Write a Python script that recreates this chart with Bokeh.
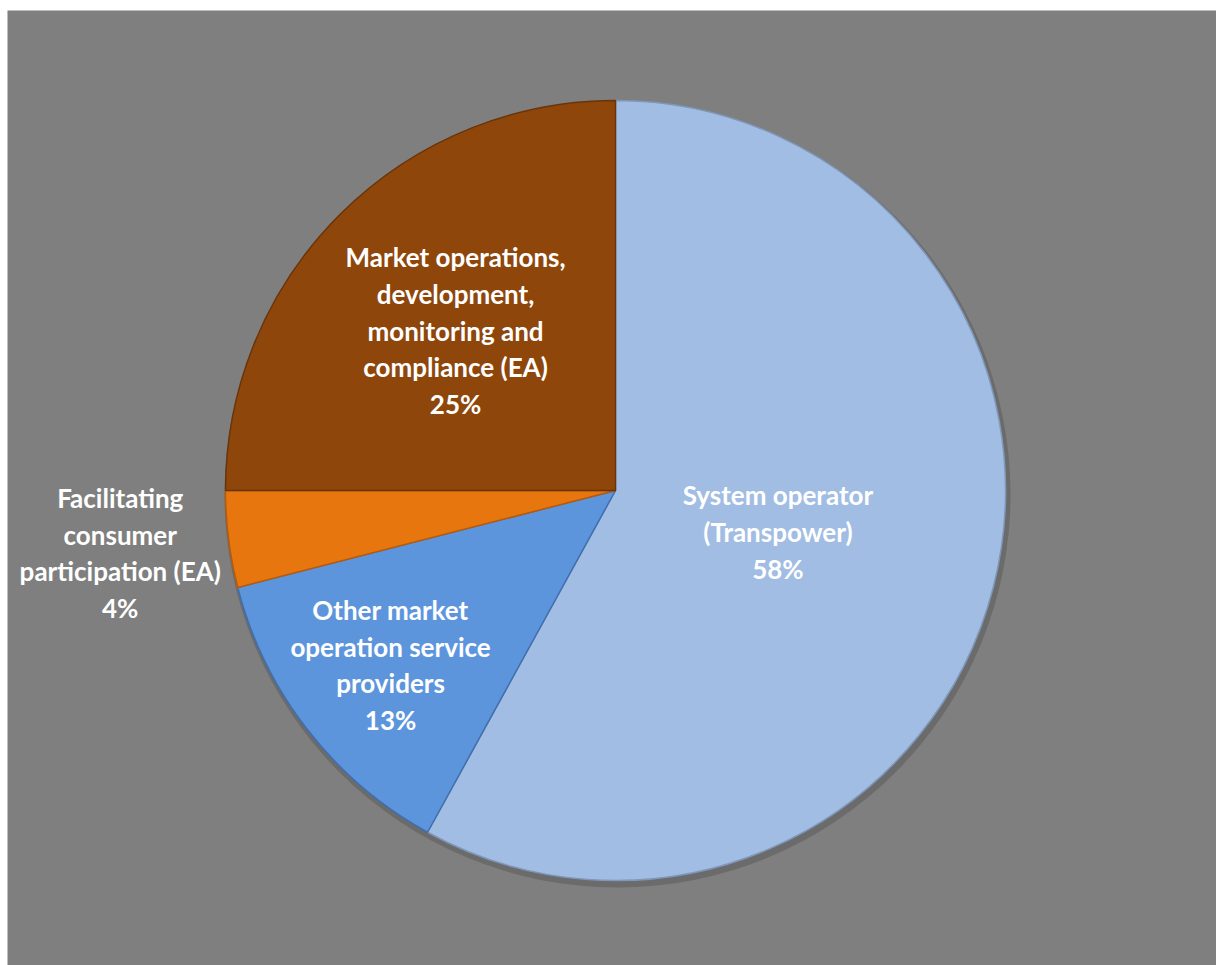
import math
from bokeh.plotting import figure
from bokeh.models import Range1d, ColumnDataSource
from bokeh.core.properties import value
from bokeh.embed import file_html
from bokeh.resources import INLINE

categories = [
    "System operator\n(Transpower)",
    "Other market\noperation service\nproviders",
    "Facilitating\nconsumer\nparticipation (EA)",
    "Market operations,\ndevelopment,\nmonitoring and\ncompliance (EA)",
]
shares = [58, 13, 4, 25]
colors = ["#A1BDE3", "#5D95DD", "#E8760F", "#8E460B"]
edge_colors = ["#7F97B8", "#3F6FAE", "#B85A08", "#6A3408"]
label_radius_frac = [0.43, 0.73, 1.28, 0.58]

W, H = 1216, 965
left, top = 7, 10
cx, cy, R = 615, 965 - 490, 390

p = figure(width=W, height=H, output_backend="svg", toolbar_location=None,
           x_range=Range1d(left, W), y_range=Range1d(0, H - top),
           min_border_left=left, min_border_top=top, min_border_right=0, min_border_bottom=0)
p.border_fill_color = "white"
p.background_fill_color = "#7F7F7F"
p.outline_line_color = None
p.axis.visible = False
p.grid.visible = False

total = sum(shares)
starts, ends, mids = [], [], []
a = math.pi / 2
for s in shares:
    span = 2 * math.pi * s / total
    starts.append(a)
    ends.append(a - span)
    mids.append(a - span / 2)
    a -= span

# soft shadow
p.circle(x=[cx + 2], y=[cy - 4], radius=R + 3, fill_color="#5E5E5E", fill_alpha=0.6, line_color=None)

src = ColumnDataSource(dict(start=starts, end=ends, color=colors, edge=edge_colors))
p.wedge(x=cx, y=cy, radius=R, start_angle="start", end_angle="end", direction="clock",
        fill_color="color", line_color="edge", line_width=1.5, source=src)

labels = [f"{c}\n{s}%" for c, s in zip(categories, shares)]
lx = [cx + f * R * math.cos(m) for f, m in zip(label_radius_frac, mids)]
ly = [cy + f * R * math.sin(m) for f, m in zip(label_radius_frac, mids)]
p.text(x=lx, y=ly, text=labels, text_align="center", text_baseline="middle",
       text_color="white", text_font=value("Lato"), text_font_style="bold",
       text_font_size="26px", text_line_height=1.15)

open("out.html", "w").write(file_html(p, INLINE))
